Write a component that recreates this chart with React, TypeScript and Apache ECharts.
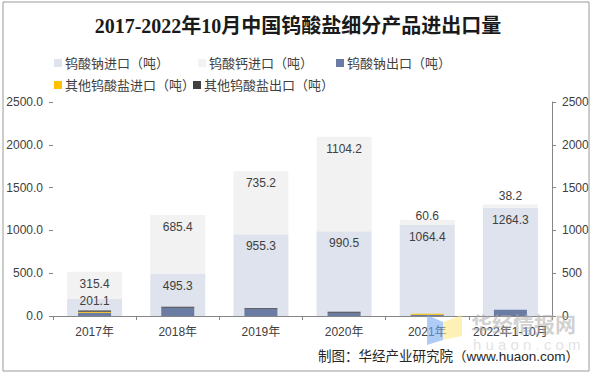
import React, { useEffect, useRef } from "react";
import * as echarts from "echarts";

const categories = ["2017年", "2018年", "2019年", "2020年", "2021年", "2022年1-10月"];
const naImport = [201.1, 495.3, 955.3, 990.5, 1064.4, 1264.3];
const caImport = [315.4, 685.4, 735.2, 1104.2, 60.6, 38.2];
const naExport = [39, 97, 85, 39, 14, 74];
const otherImport = [12, 0, 0, 0, 12, 0];
const otherExport = [12, 10, 8, 12, 1, 0];
const leftTicks = [0, 500, 1000, 1500, 2000, 2500];

const FONT = "'Liberation Sans', Arial, 'Noto Sans CJK SC', sans-serif";
const TXT = "#404040";

export default function App() {
  const ref = useRef<HTMLDivElement>(null);
  useEffect(() => {
    document.body.style.margin = "0";
    const chart = echarts.init(ref.current!, null, { renderer: "svg" });
    const naLabelOffset: Record<number, number[]> = { 0: [0, -10] };
    const caLabelOverride: Record<number, any> = {
      4: { position: "top", distance: -2 },
      5: { position: "top", distance: 3 },
    };
    const legendItem = (name: string, left: number, top: number) => ({
      show: true,
      data: [name],
      left,
      top,
      orient: "horizontal",
      itemWidth: 8,
      itemHeight: 8,
      icon: "rect",
      textStyle: { fontSize: 13, color: TXT, fontFamily: FONT, padding: [0, 0, 0, -2], lineHeight: 16 },
    });
    const narrow = {
      type: "bar",
      xAxisIndex: 1,
      yAxisIndex: 1,
      stack: "exp",
      barWidth: 33,
    };
    chart.setOption({
      animation: false,
      backgroundColor: "#ffffff",
      title: {
        text: "2017-2022年10月中国钨酸盐细分产品进出口量",
        left: "center",
        top: 11,
        textStyle: {
          fontFamily: "'Liberation Serif', 'Times New Roman', 'Noto Sans CJK SC', serif",
          fontWeight: "bold",
          fontSize: 20,
          color: "#1a1a1a",
        },
      },
      legend: [
        legendItem("钨酸钠进口（吨）", 49, 50),
        legendItem("钨酸钙进口（吨）", 193, 50),
        legendItem("钨酸钠出口（吨）", 331, 50),
        legendItem("其他钨酸盐进口（吨）", 49, 72),
        legendItem("其他钨酸盐出口（吨）", 188, 72),
      ],
      grid: { left: 53, right: 44, top: 102, bottom: 59, containLabel: false },
      xAxis: [
        {
          type: "category",
          data: categories,
          axisLine: { show: true, lineStyle: { color: "#868686", width: 1 } },
          axisTick: { show: true, length: 4, alignWithLabel: false, lineStyle: { color: "#868686" } },
          axisLabel: { fontSize: 12, color: TXT, fontFamily: FONT, margin: 10, interval: 0 },
        },
        {
          type: "category",
          data: categories,
          show: false,
        },
      ],
      yAxis: [
        {
          type: "value",
          min: 0,
          max: 2500,
          interval: 500,
          axisLine: { show: false },
          axisTick: { show: true, length: 4, lineStyle: { color: "#868686" } },
          splitLine: { show: false },
          axisLabel: {
            fontSize: 12,
            color: TXT,
            fontFamily: FONT,
            margin: 10,
            formatter: (v: number) => (leftTicks.includes(v) ? v.toFixed(1) : ""),
          },
        },
        {
          type: "value",
          min: 0,
          max: 2500,
          interval: 500,
          position: "right",
          axisLine: { show: true, lineStyle: { color: "#868686" } },
          axisTick: { show: true, length: 4, lineStyle: { color: "#868686" } },
          splitLine: { show: false },
          axisLabel: {
            fontSize: 12,
            color: TXT,
            fontFamily: FONT,
            margin: 10,
            formatter: (v: number) => String(v),
          },
        },
      ],
      series: [
        {
          name: "钨酸钠进口（吨）",
          type: "bar",
          stack: "imp",
          barWidth: 55,
          itemStyle: { color: "#dfe3ed" },
          label: {
            show: true,
            position: "insideTop",
            distance: 6,
            fontSize: 12,
            color: TXT,
            fontFamily: FONT,
            formatter: (p: any) => Number(p.value).toFixed(1),
          },
          data: naImport.map((v, i) =>
            naLabelOffset[i] ? { value: v, label: { offset: naLabelOffset[i] } } : v
          ),
        },
        {
          name: "钨酸钙进口（吨）",
          type: "bar",
          stack: "imp",
          barWidth: 55,
          itemStyle: { color: "#f2f2f2" },
          label: {
            show: true,
            position: "insideTop",
            distance: 6,
            fontSize: 12,
            color: TXT,
            fontFamily: FONT,
            formatter: (p: any) => Number(p.value).toFixed(1),
          },
          data: caImport.map((v, i) =>
            caLabelOverride[i] ? { value: v, label: caLabelOverride[i] } : v
          ),
        },
        { ...narrow, name: "钨酸钠出口（吨）", itemStyle: { color: "#6a7ca3" }, data: naExport },
        { ...narrow, name: "其他钨酸盐进口（吨）", itemStyle: { color: "#ffc000" }, data: otherImport },
        { ...narrow, name: "其他钨酸盐出口（吨）", itemStyle: { color: "#404040" }, data: otherExport },
      ],
      graphic: [
        {
          type: "rect",
          shape: { x: 3, y: 2, width: 586, height: 369 },
          style: { fill: "none", stroke: "#9a9a9a", lineWidth: 1 },
          silent: true,
          z: 100,
        },
        {
          type: "polygon",
          shape: { points: [[427, 315], [443, 322], [443, 340], [427, 345]] },
          style: { fill: "rgba(120,170,240,0.6)" },
          z: 100,
        },
        {
          type: "polygon",
          shape: { points: [[443, 322], [462, 315], [462, 336], [443, 340]] },
          style: { fill: "rgba(253,230,120,0.55)" },
          z: 100,
        },
        {
          type: "text",
          x: 471,
          y: 323,
          style: {
            text: "华经情报网",
            font: "bold 21px 'Noto Sans CJK SC', sans-serif",
            fill: "rgba(170,170,170,0.55)",
            textVerticalAlign: "middle",
          },
          z: 100,
        },
        {
          type: "text",
          x: 473,
          y: 344,
          style: {
            text: "h u a o n . c o m",
            font: "15px 'Liberation Sans', sans-serif",
            fill: "rgba(190,190,190,0.45)",
            textVerticalAlign: "middle",
          },
          z: 100,
        },
        {
          type: "text",
          x: 579,
          y: 356,
          style: {
            text: "制图：华经产业研究院（www.huaon.com）",
            font: "13.5px 'Liberation Sans', 'Noto Sans CJK SC', sans-serif",
            fill: "#262626",
            textAlign: "right",
            textVerticalAlign: "middle",
          },
          z: 101,
        },
      ],
    });
    return () => chart.dispose();
  }, []);
  return <div ref={ref} style={{ position: "absolute", left: 0, top: 0, width: 596, height: 375 }} />;
}
